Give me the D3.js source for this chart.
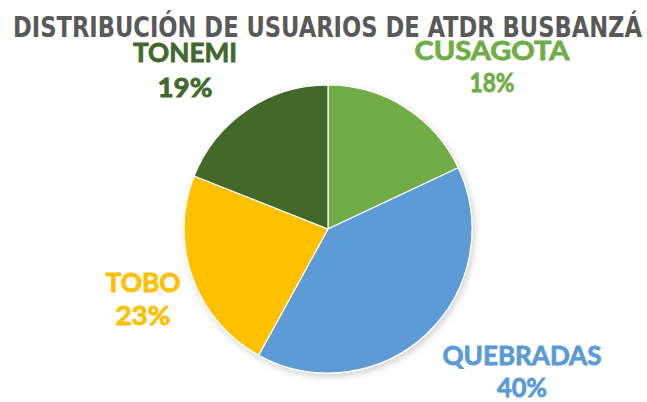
<!DOCTYPE html>
<html>
<head>
<meta charset="utf-8">
<script src="https://cdn.jsdelivr.net/npm/d3@7"></script>
<style>
  html, body { margin: 0; padding: 0; background: #fff; }
  svg { display: block; }
</style>
</head>
<body>
<svg id="chart" width="647" height="402"></svg>
<script>
// Users per ATDR zone (percent of total)
const categories = ["CUSAGOTA", "QUEBRADAS", "TOBO", "TONEMI"];
const values = [18, 40, 23, 19];
const colors = ["#70AD47", "#5B9BD5", "#FFC000", "#43682B"];
const title = "DISTRIBUCIÓN DE USUARIOS DE ATDR BUSBANZÁ";

// Label placement around the pie: [centre x, name baseline, value baseline, name width, value width]
const labelLayout = {
  CUSAGOTA:  [492, 60, 92, 155, 45],
  QUEBRADAS: [522, 365, 397, 159, 50],
  TOBO:      [143, 292, 325, 75, 55],
  TONEMI:    [185, 62, 97, 104, 55]
};

const svg = d3.select("#chart");
const cx = 328, cy = 229, r = 144;

const defs = svg.append("defs");
const f = defs.append("filter").attr("id", "shadow")
  .attr("x", "-20%").attr("y", "-20%").attr("width", "140%").attr("height", "140%");
f.append("feDropShadow").attr("dx", 2).attr("dy", 3).attr("stdDeviation", 3)
  .attr("flood-color", "#000").attr("flood-opacity", 0.18);

// Title
svg.append("text")
  .attr("x", 13).attr("y", 37)
  .attr("textLength", 629).attr("lengthAdjust", "spacingAndGlyphs")
  .style("font-family", "'DejaVu Sans Condensed', 'DejaVu Sans', sans-serif")
  .style("font-weight", "bold").style("font-size", "28px")
  .attr("fill", "#595959")
  .text(title);

const data = categories.map((c, i) => ({ name: c, value: values[i], color: colors[i] }));
const pie = d3.pie().value(d => d.value).sort(null);
const arc = d3.arc().innerRadius(0).outerRadius(r);

const g = svg.append("g").attr("transform", `translate(${cx},${cy})`);
g.append("g").attr("filter", "url(#shadow)")
  .selectAll("path").data(pie(data)).join("path")
  .attr("d", arc)
  .attr("fill", d => d.data.color)
  .attr("stroke", "#fff").attr("stroke-width", 1.2);

// Labels (a thin same-colour stroke gives them a heavier weight)
const fmt = d3.format("d");
data.forEach(d => {
  const [x, y1, y2, w1, w2] = labelLayout[d.name];
  const lbl = svg.append("g")
    .style("font-family", "Lato, 'Open Sans', sans-serif")
    .style("font-weight", "bold").style("font-size", "26px")
    .attr("fill", d.color).attr("stroke", d.color).attr("stroke-width", 0.8)
    .attr("text-anchor", "middle");
  lbl.append("text").attr("x", x).attr("y", y1)
    .attr("textLength", w1).attr("lengthAdjust", "spacingAndGlyphs")
    .text(d.name);
  lbl.append("text").attr("x", x).attr("y", y2)
    .attr("textLength", w2).attr("lengthAdjust", "spacingAndGlyphs")
    .text(fmt(d.value) + "%");
});
</script>
</body>
</html>
